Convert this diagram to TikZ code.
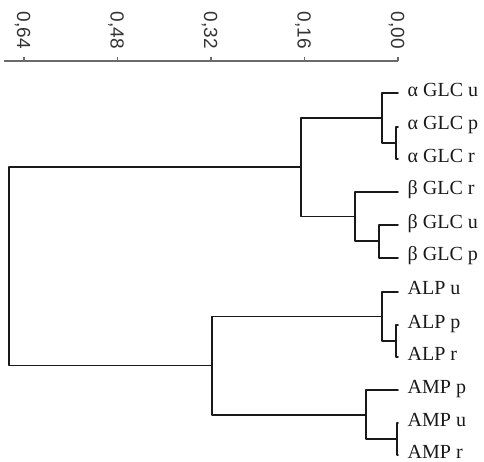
\documentclass[tikz,border=0pt]{standalone}
\usepackage{fontspec}
\setmainfont{Liberation Serif}
\newfontfamily\axisfont{Liberation Sans}
\definecolor{axisgray}{HTML}{6A6A6A}
\definecolor{labgray}{HTML}{333333}
\tikzset{
  branch/.style={line width=1.8pt, draw=black!90, line join=round, line cap=round},
  axisline/.style={line width=1.2pt, draw=axisgray},
  leaflab/.style={anchor=base west, inner sep=0pt, text=black!90, font=\fontsize{20}{20}\selectfont},
  ticklab/.style={rotate=-90, anchor=east, inner sep=0pt, text height=13.6pt, text depth=0pt, text=labgray, font=\axisfont\fontsize{19}{19}\selectfont}
}
\begin{document}
\begin{tikzpicture}[x=1pt,y=-1pt]
\useasboundingbox (0,0) rectangle (484,461);
% axis
\coordinate (ax0) at (4,61);
\coordinate (ax1) at (398,61);
\draw[axisline] (ax0) -- (ax1);
\foreach \xx/\lab [count=\i] in {24/{0,64},117.5/{0,48},211/{0,32},304.5/{0,16},398/{0,00}}{
  \coordinate (t\i) at (\xx,61);
  \coordinate (tt\i) at (\xx,56.5);
  \draw[axisline] (t\i) -- (tt\i);
  \node[ticklab] (tl\i) at (\xx,49) {\lab};
}
% leaves
\foreach \yy/\lab [count=\i from 0] in {93.3/{α GLC u},126.7/{α GLC p},159.3/{α GLC r},191.7/{β GLC r},225/{β GLC u},257.7/{β GLC p},291.7/{ALP u},325/{ALP p},357.3/{ALP r},390/{AMP p},423.3/{AMP u},455/{AMP r}}{
  \coordinate (l\i) at (398,\yy);
  \node[leaflab] (n\i) at (407.5,\yy+3) {\lab};
}
% joins
\coordinate (jApr) at (395.7,143);
\coordinate (jA) at (382,118.2);
\coordinate (jBup) at (379,241.35);
\coordinate (jB) at (355,216.5);
\coordinate (jAB) at (301,167.35);
\coordinate (jLpr) at (395.7,341.15);
\coordinate (jL) at (382,316.4);
\coordinate (jMur) at (396.7,439.15);
\coordinate (jM) at (366,414.6);
\coordinate (jLM) at (212,365.5);
\coordinate (root) at (9,266.4);
% alpha GLC
\draw[branch] (l1) -| (jApr) |- (l2);
\draw[branch] (l0) -| (jA) |- (jApr);
% beta GLC
\draw[branch] (l4) -| (jBup) |- (l5);
\draw[branch] (l3) -| (jB) |- (jBup);
% GLC cluster
\draw[branch] (jA) -| (jAB) |- (jB);
% ALP
\draw[branch] (l7) -| (jLpr) |- (l8);
\draw[branch] (l6) -| (jL) |- (jLpr);
% AMP
\draw[branch] (l10) -| (jMur) |- (l11);
\draw[branch] (l9) -| (jM) |- (jMur);
% ALP-AMP cluster
\draw[branch] (jL) -| (jLM) |- (jM);
% root
\draw[branch] (jAB) -| (root) |- (jLM);
\end{tikzpicture}
\end{document}
